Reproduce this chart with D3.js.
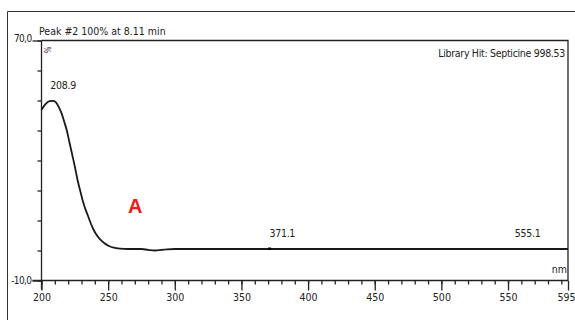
<!DOCTYPE html>
<html>
<head>
<meta charset="utf-8">
<script src="https://cdn.jsdelivr.net/npm/d3@7"></script>
<style>
  html, body { margin: 0; padding: 0; background: #fff; }
  svg { display: block; }
  text { font-family: "Liberation Sans Narrow", "DejaVu Sans Condensed", "Liberation Sans", sans-serif; fill: #222; }
</style>
</head>
<body>
<div id="chart"></div>
<script>
// UV spectrum of peak #2 (wavelength in nm, absorbance in %)
const wavelengths = [200, 203, 206, 208.9, 211, 213, 215, 217, 219, 221, 223, 225, 227, 229, 231, 233, 235, 237, 239, 241, 244, 247, 251, 255, 259, 265, 275, 280, 285, 290, 294, 300, 350, 371.1, 400, 450, 483.7, 500, 555.1, 595];
const absorbance  = [46.9, 48.8, 49.8, 49.9, 49.3, 47.8, 45.8, 43.0, 40.0, 36.0, 32.0, 28.0, 23.6, 20.0, 16.5, 13.7, 11.4, 9.0, 7.0, 5.4, 3.7, 2.5, 1.4, 0.9, 0.6, 0.5, 0.5, 0.2, 0.0, 0.2, 0.4, 0.5, 0.5, 0.5, 0.5, 0.5, 0.5, 0.5, 0.5, 0.5];
const peakLabels = [208.9, 371.1, 555.1];
const xMajorTicks = [200, 250, 300, 350, 400, 450, 500, 550, 595];
const yMajorTicks = [70, -10];
const title = "Peak #2  100% at 8.11 min";
const libraryHit = "Library Hit: Septicine 998.53";

const W = 575, H = 320;
const margin = { left: 41.5, top: 40.5, right: 7, bottom: 39.5 };

const svg = d3.select('#chart').append('svg')
  .attr('width', W)
  .attr('height', H);

// outer frame (only left and top visible)
svg.append('path')
  .attr('d', `M7.5,${H}V11.5H${W}`)
  .style('fill', 'none')
  .style('stroke', '#333')
  .style('stroke-width', 1);

const x = d3.scaleLinear().domain([200, 595]).range([margin.left, W - margin.right]);
const y = d3.scaleLinear().domain([-10, 70]).range([H - margin.bottom, margin.top]);

// plot border top/right
svg.append('path')
  .attr('d', `M${x(200)},${y(70)}H${x(595)}V${y(-10)}`)
  .style('fill', 'none')
  .style('stroke', '#222')
  .style('stroke-width', 1.3);

// x axis: minor ticks
svg.append('g')
  .attr('transform', `translate(0,${y(-10)})`)
  .call(d3.axisBottom(x).tickValues(d3.range(200, 596, 10)).tickSize(4).tickFormat(''))
  .call(g => g.select('.domain').remove())
  .call(g => g.selectAll('line').style('stroke', '#222').style('stroke-width', 1.3));

// x axis: major ticks with labels
svg.append('g')
  .attr('transform', `translate(0,${y(-10)})`)
  .call(d3.axisBottom(x).tickValues(xMajorTicks).tickSize(10).tickPadding(3).tickFormat(d3.format('d')))
  .call(g => g.select('.domain').attr('d', `M${x(200) - 9},0H${x(595)}`).style('stroke', '#222').style('stroke-width', 1.3))
  .call(g => g.selectAll('line').style('stroke', '#222').style('stroke-width', 1.3))
  .call(g => g.selectAll('text').style('font-size', '10.5px').style('font-family', null).style('fill', '#222'))
  // last label sits at the right edge, keep it inside the page
  .call(g => g.selectAll('.tick').filter(d => d === 595).select('text').attr('text-anchor', 'end').attr('x', 7));

// y axis: minor ticks
svg.append('g')
  .attr('transform', `translate(${x(200)},0)`)
  .call(d3.axisLeft(y).tickValues(d3.range(-10, 71, 10)).tickSize(4).tickFormat(''))
  .call(g => g.select('.domain').remove())
  .call(g => g.selectAll('line').style('stroke', '#222').style('stroke-width', 1.3));

// y axis: major ticks with labels
svg.append('g')
  .attr('transform', `translate(${x(200)},0)`)
  .call(d3.axisLeft(y).tickValues(yMajorTicks).tickSize(9).tickPadding(1)
    .tickFormat(d => (d < 0 ? '-' : '') + Math.abs(d).toFixed(1).replace('.', ',')))
  .call(g => g.select('.domain').attr('d', `M0,${y(70)}V${y(-10) + 9}`).style('stroke', '#222').style('stroke-width', 1.3))
  .call(g => g.selectAll('line').style('stroke', '#222').style('stroke-width', 1.3))
  .call(g => g.selectAll('text').style('font-size', '10px').style('letter-spacing', '-0.6px').style('font-family', null).style('fill', '#222'))
  .call(g => g.selectAll('.tick').filter(d => d === 70).select('text').attr('dy', '0.05em'));

// spectrum line
const pts = wavelengths.map((w, i) => [w, absorbance[i]]);
const line = d3.line().x(d => x(d[0])).y(d => y(d[1])).curve(d3.curveMonotoneX);
svg.append('path')
  .datum(pts)
  .attr('d', line)
  .style('fill', 'none')
  .style('stroke', '#1a1a1a')
  .style('stroke-width', 1.8);

// small marker on the 371.1 peak
svg.append('rect')
  .attr('x', x(371.1) - 1.5)
  .attr('y', y(0.5) - 1.5)
  .attr('width', 3)
  .attr('height', 2.5)
  .style('fill', '#000');

// peak labels
svg.selectAll('.peak-label')
  .data(peakLabels)
  .enter()
  .append('text')
  .attr('class', 'peak-label')
  .attr('x', d => x(d) - (d < 250 ? 3 : 0))
  .attr('y', d => y(absorbance[wavelengths.indexOf(d)]) - 12)
  .style('font-size', '10.5px')
  .style('letter-spacing', '-0.3px')
  .text(d => d.toFixed(1));

// title and library hit
svg.append('text')
  .attr('x', 39)
  .attr('y', 35)
  .style('font-size', '10.5px')
  .text(title);

svg.append('text')
  .attr('x', x(595) - 3)
  .attr('y', 57)
  .attr('text-anchor', 'end')
  .style('font-size', '10.5px')
  .style('letter-spacing', '-0.3px')
  .text(libraryHit);

// rotated % unit
svg.append('text')
  .attr('transform', `translate(${x(200) + 2},${y(70) + 6}) rotate(90)`)
  .style('font-size', '8px')
  .text('%');

// nm unit
svg.append('text')
  .attr('x', x(595) - 1)
  .attr('y', 273)
  .attr('text-anchor', 'end')
  .style('font-size', '10.5px')
  .text('nm');

// red panel letter
svg.append('text')
  .attr('x', 128)
  .attr('y', 213)
  .style('font-family', 'Liberation Sans, Arial, sans-serif')
  .style('font-size', '20px')
  .style('font-weight', 'bold')
  .style('fill', '#f01818')
  .text('A');
</script>
</body>
</html>
